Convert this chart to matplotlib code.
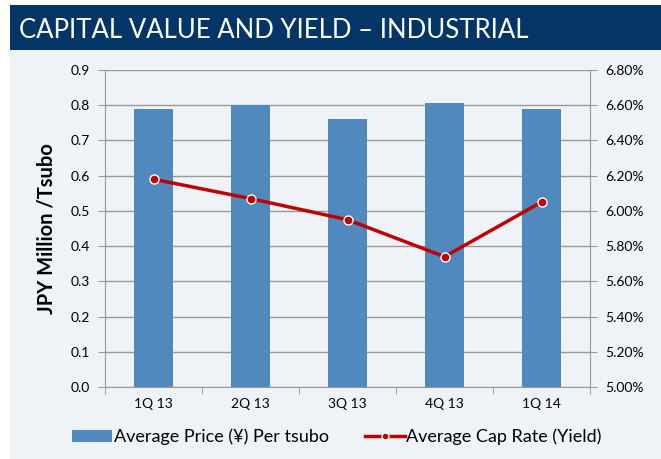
import numpy as np
import matplotlib.pyplot as plt
from matplotlib.patches import Rectangle
from matplotlib.lines import Line2D

quarters = ['1Q 13', '2Q 13', '3Q 13', '4Q 13', '1Q 14']
avg_price = [0.79, 0.80, 0.76, 0.805, 0.79]
cap_rate = [6.18, 6.07, 5.95, 5.74, 6.05]
left_ticks = [0.0, 0.1, 0.2, 0.3, 0.4, 0.5, 0.6, 0.7, 0.8, 0.9]
right_ticks = [5.0, 5.2, 5.4, 5.6, 5.8, 6.0, 6.2, 6.4, 6.6, 6.8]

title = 'CAPITAL VALUE AND YIELD \u2013 INDUSTRIAL'
bar_color = '#4F89BD'
line_color = '#C00000'
bg = '#EFF3F7'
navy = '#033566'
grid_col = '#999999'

plt.rcParams['font.family'] = ['Lato', 'DejaVu Sans']

W, H = 661, 459
fig = plt.figure(figsize=(W / 100, H / 100), dpi=100)
fig.patch.set_facecolor('white')

# background panels
fig.add_artist(Rectangle((10 / W, 0), 1, 1 - 50 / H, transform=fig.transFigure,
                         facecolor=bg, edgecolor='none', zorder=0))
fig.add_artist(Rectangle((10 / W, 1 - 50 / H), 1, 45 / H, transform=fig.transFigure,
                         facecolor=navy, edgecolor='none', zorder=0))
fig.text(19 / W, 1 - 30 / H, title, color='white', fontsize=18.5,
         va='center', ha='left')

ax = fig.add_axes([105 / W, 1 - 387 / H, 485 / W, 317 / H])
ax.set_facecolor('none')
x = np.arange(len(quarters))
ax.bar(x, avg_price, width=0.4, color=bar_color, zorder=2)
ax.set_xlim(-0.5, len(quarters) - 0.5)
ax.set_ylim(0, 0.9)
ax.set_yticks(left_ticks)
ax.set_yticklabels([f'{v:.1f}' for v in left_ticks], fontsize=10)
ax.set_xticks(x)
ax.set_xticklabels(quarters, fontsize=10)
ax.set_xticks(np.arange(len(quarters) + 1) - 0.5, minor=True)
ax.tick_params(axis='x', which='major', length=0, pad=8)
ax.tick_params(axis='x', which='minor', length=5, color=grid_col, direction='out')
ax.tick_params(axis='y', length=5, color=grid_col, direction='out', pad=6)
ax.grid(axis='y', color=grid_col, linewidth=1, zorder=1)
ax.set_axisbelow(True)
for s in ['top', 'right']:
    ax.spines[s].set_visible(False)
for s in ['left', 'bottom']:
    ax.spines[s].set_color(grid_col)
ax.set_ylabel('JPY Million /Tsubo', fontsize=14.5, fontweight='bold', labelpad=10)

ax2 = ax.twinx()
ax2.plot(x, cap_rate, color=line_color, linewidth=2.5, marker='o', markersize=6.5,
         markerfacecolor=line_color, markeredgecolor='white', markeredgewidth=1, zorder=3)
ax2.set_ylim(5.0, 6.8)
ax2.set_yticks(right_ticks)
ax2.set_yticklabels([f'{v:.2f}%' for v in right_ticks], fontsize=10)
ax2.tick_params(axis='y', length=5, color=grid_col, direction='out', pad=6)
for s in ['top', 'left', 'bottom']:
    ax2.spines[s].set_visible(False)
ax2.spines['right'].set_color(grid_col)

handles = [Rectangle((0, 0), 1, 1, facecolor=bar_color),
           Line2D([], [], color=line_color, linewidth=2.5, marker='o', markersize=5,
                  markerfacecolor=line_color, markeredgecolor='white')]
fig.legend(handles, ['Average Price (\u00a5) Per tsubo', 'Average Cap Rate (Yield)'],
           loc='center', bbox_to_anchor=(337 / W, 1 - 437 / H), ncol=2, frameon=False,
           fontsize=13, handlelength=2.2, handletextpad=0.1, columnspacing=2.0)

fig.savefig('out.png', dpi=100, facecolor=fig.get_facecolor())
